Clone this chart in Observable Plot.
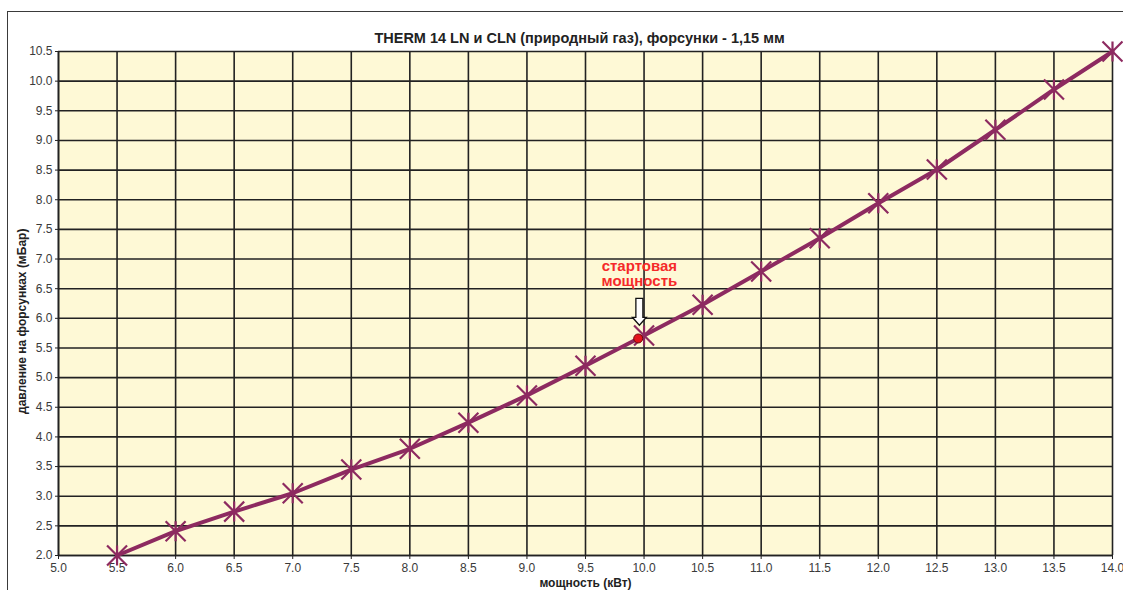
<!DOCTYPE html>
<html>
<head>
<meta charset="utf-8">
<script src="https://cdn.jsdelivr.net/npm/d3@7"></script>
<script src="https://cdn.jsdelivr.net/npm/@observablehq/plot@0.6"></script>
<style>
  html, body { margin: 0; padding: 0; background: #fff; overflow: hidden; width: 1123px; height: 590px; }
  #wrap { position: relative; width: 1123px; height: 590px; }
  #border { position: absolute; left: 7px; top: 11px; width: 1140px; height: 620px; border: 1.5px solid #3a3a3a; box-sizing: border-box; pointer-events: none; }
  #chart { position: absolute; left: 0; top: 0; }
</style>
</head>
<body>
<div id="wrap">
  <div id="chart"></div>
  <div id="border"></div>
</div>
<script>
const title = "THERM 14 LN и CLN (природный газ), форсунки - 1,15 мм";
const xLabel = "мощность (кВт)";
const yLabel = "давление на форсунках (мБар)";
const power = [5.5, 6.0, 6.5, 7.0, 7.5, 8.0, 8.5, 9.0, 9.5, 10.0, 10.5, 11.0, 11.5, 12.0, 12.5, 13.0, 13.5, 14.0];
const pressure = [2.0, 2.41, 2.74, 3.05, 3.45, 3.80, 4.24, 4.70, 5.20, 5.71, 6.23, 6.79, 7.35, 7.94, 8.51, 9.18, 9.86, 10.5];
const xTicks = [5.0, 5.5, 6.0, 6.5, 7.0, 7.5, 8.0, 8.5, 9.0, 9.5, 10.0, 10.5, 11.0, 11.5, 12.0, 12.5, 13.0, 13.5, 14.0];
const yTicks = [2.0, 2.5, 3.0, 3.5, 4.0, 4.5, 5.0, 5.5, 6.0, 6.5, 7.0, 7.5, 8.0, 8.5, 9.0, 9.5, 10.0, 10.5];
const startLabel = "стартовая\nмощность";
const startPoint = [9.95, 5.66];
const arrowPoint = [9.96, 6.11];
const labelPoint = [9.96, 6.76];
const yLabelCenter = 5.95;

const data = power.map((p, i) => ({power: p, pressure: pressure[i]}));

const asterisk = {
  draw(ctx, size) {
    const r = Math.sqrt(size / Math.PI);
    ctx.moveTo(-r, -r); ctx.lineTo(r, r);
    ctx.moveTo(r, -r); ctx.lineTo(-r, r);
    ctx.moveTo(0, -r); ctx.lineTo(0, r);
  }
};
const blockArrow = {
  draw(ctx, size) {
    const s = Math.sqrt(size / Math.PI);
    const h = s * 1.35, sw = s * 0.35, hw = s * 0.7, hh = s * 0.8;
    ctx.moveTo(-sw, -h);
    ctx.lineTo(sw, -h);
    ctx.lineTo(sw, h - hh);
    ctx.lineTo(hw, h - hh);
    ctx.lineTo(0, h);
    ctx.lineTo(-hw, h - hh);
    ctx.lineTo(-sw, h - hh);
    ctx.closePath();
  }
};

const fmt = d3.format(".1f");
const lineColor = "#8d2a60";

const plot = Plot.plot({
  width: 1123,
  height: 590,
  marginLeft: 58,
  marginRight: 11,
  marginTop: 51,
  marginBottom: 35,
  style: { fontFamily: "Arial, 'Liberation Sans', sans-serif", fontSize: "12px", color: "#333", background: "transparent" },
  x: { domain: [5, 14] },
  y: { domain: [2, 10.5] },
  marks: [
    Plot.frame({ fill: "#fef9d6", stroke: "none" }),
    Plot.gridX(xTicks, { stroke: "#222", strokeOpacity: 1, strokeWidth: 1.6 }),
    Plot.gridY(yTicks, { stroke: "#222", strokeOpacity: 1, strokeWidth: 1.6 }),
    Plot.ruleX([5], { stroke: "#222", strokeWidth: 1.6 }),
    Plot.ruleY([2], { stroke: "#222", strokeWidth: 1.6 }),
    Plot.axisX({ ticks: xTicks, tickFormat: fmt, tickSize: 4, tickPadding: 4, label: null, fill: "#3a3a3a", stroke: "#222", fontSize: 12 }),
    Plot.axisY({ ticks: yTicks, tickFormat: fmt, tickSize: 3, tickPadding: 3, label: null, fill: "#3a3a3a", stroke: "#222", fontSize: 12 }),
    Plot.line(data, { x: "power", y: "pressure", stroke: lineColor, strokeWidth: 4, strokeLinejoin: "round" }),
    Plot.dot(data, { x: "power", y: "pressure", symbol: asterisk, r: 10, stroke: lineColor, strokeWidth: 2.2, fill: "none" }),
    Plot.dot([startPoint], { x: d => d[0], y: d => d[1], r: 4.5, fill: "#e3141b", stroke: "#6a0a0a", strokeWidth: 1 }),
    Plot.dot([arrowPoint], { x: d => d[0], y: d => d[1], symbol: blockArrow, r: 10, fill: "#fff", stroke: "#111", strokeWidth: 1.3 }),
    Plot.text([startLabel], { x: () => labelPoint[0], y: () => labelPoint[1], fill: "#f52a2a", fontWeight: "bold", fontSize: 15, lineHeight: 1.0 }),
    Plot.text([title], { frameAnchor: "top", dy: -19, dx: -6, fontWeight: "bold", fontSize: 14.5, fill: "#222" }),
    Plot.text([xLabel], { frameAnchor: "bottom", dy: 31, fontWeight: "bold", fontSize: 12, fill: "#222" }),
    Plot.text([yLabel], { frameAnchor: "left", y: () => yLabelCenter, dx: -36, rotate: -90, textAnchor: "middle", fontWeight: "bold", fontSize: 12, fill: "#222" })
  ]
});
document.getElementById("chart").appendChild(plot);
</script>
</body>
</html>
